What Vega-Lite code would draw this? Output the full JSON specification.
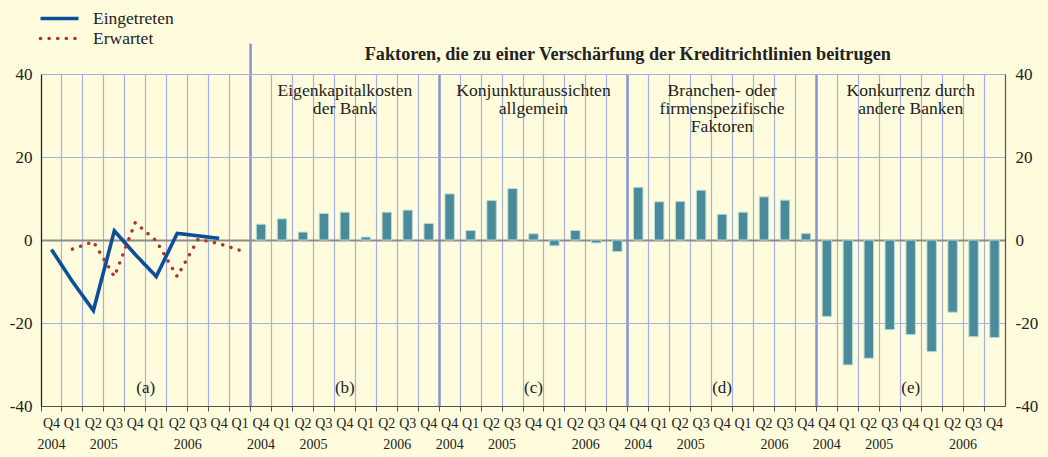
{
  "$schema": "https://vega.github.io/schema/vega-lite/v6.json",
  "width": 964,
  "height": 332,
  "autosize": {"type": "none"},
  "padding": {"left": 41, "top": 74, "right": 43, "bottom": 51},
  "background": "#fefcdc",
  "config": {
    "view": {"stroke": null},
    "font": "Liberation Serif",
    "text": {"font": "Liberation Serif", "color": "#222222"},
    "axis": {"labelFont": "Liberation Serif", "labelColor": "#222222", "title": null},
    "legend": {
      "orient": "none",
      "legendX": 7,
      "legendY": -67,
      "symbolType": "M-2,0H2",
      "symbolSize": 361,
      "symbolStrokeWidth": 3.6,
      "labelFont": "Liberation Serif",
      "labelFontSize": 17.5,
      "labelColor": "#222222",
      "labelOffset": 22,
      "rowPadding": 0
    }
  },
  "datasets": {
    "slots": [
      {"key": "10 Q4", "bar": 3.8}, {"key": "11 Q1", "bar": 5.1}, {"key": "12 Q2", "bar": 1.9},
      {"key": "13 Q3", "bar": 6.4}, {"key": "14 Q4", "bar": 6.7}, {"key": "15 Q1", "bar": 0.7},
      {"key": "16 Q2", "bar": 6.7}, {"key": "17 Q3", "bar": 7.2}, {"key": "18 Q4", "bar": 4.0},
      {"key": "19 Q4", "bar": 11.1}, {"key": "20 Q1", "bar": 2.3}, {"key": "21 Q2", "bar": 9.5},
      {"key": "22 Q3", "bar": 12.4}, {"key": "23 Q4", "bar": 1.5}, {"key": "24 Q1", "bar": -1.4},
      {"key": "25 Q2", "bar": 2.3}, {"key": "26 Q3", "bar": -0.7}, {"key": "27 Q4", "bar": -2.8},
      {"key": "28 Q4", "bar": 12.7}, {"key": "29 Q1", "bar": 9.2}, {"key": "30 Q2", "bar": 9.3},
      {"key": "31 Q3", "bar": 12.0}, {"key": "32 Q4", "bar": 6.2}, {"key": "33 Q1", "bar": 6.7},
      {"key": "34 Q2", "bar": 10.4}, {"key": "35 Q3", "bar": 9.6}, {"key": "36 Q4", "bar": 1.6},
      {"key": "37 Q4", "bar": -18.4}, {"key": "38 Q1", "bar": -30.1}, {"key": "39 Q2", "bar": -28.5},
      {"key": "40 Q3", "bar": -21.6}, {"key": "41 Q4", "bar": -22.8}, {"key": "42 Q1", "bar": -26.9},
      {"key": "43 Q2", "bar": -17.4}, {"key": "44 Q3", "bar": -23.3}, {"key": "45 Q4", "bar": -23.5}
    ],
    "lines": [
      {"key": "00 Q4", "series": "Eingetreten", "v": -2.3},
      {"key": "01 Q1", "series": "Eingetreten", "v": -10.0},
      {"key": "02 Q2", "series": "Eingetreten", "v": -17.0},
      {"key": "03 Q3", "series": "Eingetreten", "v": 2.2},
      {"key": "04 Q4", "series": "Eingetreten", "v": -3.5},
      {"key": "05 Q1", "series": "Eingetreten", "v": -8.8},
      {"key": "06 Q2", "series": "Eingetreten", "v": 1.6},
      {"key": "07 Q3", "series": "Eingetreten", "v": 1.0},
      {"key": "08 Q4", "series": "Eingetreten", "v": 0.4},
      {"key": "01 Q1", "series": "Erwartet", "v": -2.2},
      {"key": "02 Q2", "series": "Erwartet", "v": -0.4},
      {"key": "03 Q3", "series": "Erwartet", "v": -8.8},
      {"key": "04 Q4", "series": "Erwartet", "v": 4.2},
      {"key": "05 Q1", "series": "Erwartet", "v": -0.2},
      {"key": "06 Q2", "series": "Erwartet", "v": -8.8},
      {"key": "07 Q3", "series": "Erwartet", "v": 0.2},
      {"key": "08 Q4", "series": "Erwartet", "v": -0.9},
      {"key": "09 Q1", "series": "Erwartet", "v": -2.5}
    ],
    "ptitles": [
      {"key": "14 Q4", "lines": ["Eigenkapitalkosten", "der Bank"]},
      {"key": "23 Q4", "lines": ["Konjunkturaussichten", "allgemein"]},
      {"key": "32 Q4", "lines": ["Branchen- oder", "firmenspezifische", "Faktoren"]},
      {"key": "41 Q4", "lines": ["Konkurrenz durch", "andere Banken"]}
    ],
    "letters": [
      {"key": "14 Q4", "t": "(b)"}, {"key": "23 Q4", "t": "(c)"},
      {"key": "32 Q4", "t": "(d)"}, {"key": "41 Q4", "t": "(e)"}
    ],
    "yearStart": [
      {"key": "00 Q4", "t": "2004"}, {"key": "10 Q4", "t": "2004"}, {"key": "19 Q4", "t": "2004"},
      {"key": "28 Q4", "t": "2004"}, {"key": "37 Q4", "t": "2004"}
    ],
    "yearMid": [
      {"key": "03 Q3", "t": "2005"}, {"key": "07 Q3", "t": "2006"},
      {"key": "13 Q3", "t": "2005"}, {"key": "17 Q3", "t": "2006"},
      {"key": "22 Q3", "t": "2005"}, {"key": "26 Q3", "t": "2006"},
      {"key": "31 Q3", "t": "2005"}, {"key": "35 Q3", "t": "2006"},
      {"key": "40 Q3", "t": "2005"}, {"key": "44 Q3", "t": "2006"}
    ]
  },
  "layer": [
    {
      "data": {"name": "slots"},
      "mark": {"type": "bar", "width": {"band": 0.45}, "fill": "#4b8a99", "stroke": "#b5dbe2", "strokeWidth": 1},
      "encoding": {
        "x": {
          "field": "key", "type": "ordinal",
          "scale": {"paddingInner": 0, "paddingOuter": 0},
          "axis": {
            "orient": "bottom", "bandPosition": 0, "labels": false,
            "ticks": true, "tickSize": 5, "tickColor": "#555555",
            "domainColor": "#555555", "domainWidth": 1,
            "grid": true,
            "gridColor": {"condition": {"test": "indexof(['10 Q4','19 Q4','28 Q4','37 Q4'], datum.value) >= 0", "value": "#8594d2"}, "value": "#a3b0e0"},
            "gridWidth": {"condition": {"test": "indexof(['10 Q4','19 Q4','28 Q4','37 Q4'], datum.value) >= 0", "value": 2.5}, "value": 1.2}
          }
        },
        "y": {
          "field": "bar", "type": "quantitative",
          "scale": {"domain": [-40, 40], "nice": false},
          "axis": {
            "orient": "left", "values": [-40, -20, 0, 20, 40],
            "labelExpr": "toString(datum.value)",
            "grid": true,
            "gridColor": {"condition": {"test": "datum.value === 0", "value": "#8c8c8c"}, "value": "#a3b0e0"},
            "gridWidth": {"condition": {"test": "datum.value === 0", "value": 2}, "value": 1.2},
            "ticks": false, "domainColor": "#222222", "domainWidth": 1.2,
            "labelPadding": 9, "labelFontSize": 17
          }
        }
      }
    },
    {
      "data": {"name": "lines"},
      "transform": [{"filter": "datum.series === 'Eingetreten'"}],
      "mark": {"type": "line", "strokeWidth": 3.6, "strokeJoin": "miter", "strokeCap": "butt"},
      "encoding": {
        "x": {
          "field": "key", "type": "ordinal",
          "axis": {
            "orient": "bottom", "bandPosition": 0.5, "domain": false, "ticks": false, "tickSize": 0,
            "grid": false, "labelExpr": "substring(datum.value, 3)", "labelAngle": 0,
            "labelOverlap": false, "labelFontSize": 14, "labelPadding": 10
          }
        },
        "y": {
          "field": "v", "type": "quantitative",
          "scale": {"domain": [-40, 40], "nice": false},
          "axis": {
            "orient": "right", "values": [-40, -20, 0, 20, 40], "labelExpr": "toString(datum.value)",
            "grid": false, "ticks": false,
            "domainColor": "#555555", "domainWidth": 1.2, "labelPadding": 10, "labelFontSize": 17
          }
        },
        "color": {
          "field": "series", "type": "nominal",
          "scale": {"domain": ["Eingetreten", "Erwartet"], "range": ["#0b4f9c", "#b0342c"]},
          "legend": {"title": null, "encode": {"symbols": {"update": {"strokeCap": {"signal": "datum.value === 'Erwartet' ? 'round' : 'butt'"}}}}}
        },
        "strokeDash": {
          "field": "series", "type": "nominal",
          "scale": {"domain": ["Eingetreten", "Erwartet"], "range": [[1, 0], [0.1, 8.5]]},
          "legend": {"title": null, "encode": {"symbols": {"update": {"strokeCap": {"signal": "datum.value === 'Erwartet' ? 'round' : 'butt'"}}}}}
        }
      }
    },
    {
      "data": {"name": "lines"},
      "transform": [{"filter": "datum.series === 'Erwartet'"}],
      "mark": {"type": "line", "strokeWidth": 3.4, "strokeCap": "round"},
      "encoding": {
        "x": {"field": "key", "type": "ordinal", "axis": null},
        "y": {"field": "v", "type": "quantitative", "scale": {"domain": [-40, 40], "nice": false}, "axis": null},
        "color": {
          "field": "series", "type": "nominal",
          "scale": {"domain": ["Eingetreten", "Erwartet"], "range": ["#0b4f9c", "#b0342c"]},
          "legend": {"title": null, "encode": {"symbols": {"update": {"strokeCap": {"signal": "datum.value === 'Erwartet' ? 'round' : 'butt'"}}}}}
        },
        "strokeDash": {
          "field": "series", "type": "nominal",
          "scale": {"domain": ["Eingetreten", "Erwartet"], "range": [[1, 0], [0.1, 8.5]]},
          "legend": {"title": null, "encode": {"symbols": {"update": {"strokeCap": {"signal": "datum.value === 'Erwartet' ? 'round' : 'butt'"}}}}}
        }
      }
    },
    {
      "data": {"values": [{"key": "10 Q4"}]},
      "mark": {"type": "rule", "color": "#8594d2", "strokeWidth": 2.5, "clip": false},
      "encoding": {
        "x": {"field": "key", "type": "ordinal", "bandPosition": 0, "axis": null},
        "y": {"datum": 40, "type": "quantitative", "scale": {"domain": [-40, 40], "nice": false}, "axis": null},
        "y2": {"datum": 47.3}
      }
    },
    {
      "data": {"values": [{"key": "28 Q4", "t": "Faktoren, die zu einer Verschärfung der Kreditrichtlinien beitrugen"}]},
      "mark": {"type": "text", "fontSize": 18.2, "fontWeight": "bold", "baseline": "middle", "align": "center"},
      "encoding": {
        "x": {"field": "key", "type": "ordinal", "bandPosition": 0, "axis": null},
        "y": {"datum": 44.6, "type": "quantitative", "scale": {"domain": [-40, 40], "nice": false}, "axis": null},
        "text": {"field": "t"}
      }
    },
    {
      "data": {"name": "ptitles"},
      "mark": {"type": "text", "fontSize": 17.6, "baseline": "alphabetic", "align": "center", "lineHeight": 18},
      "encoding": {
        "x": {"field": "key", "type": "ordinal", "bandPosition": 0.5, "axis": null},
        "y": {"datum": 34.6, "type": "quantitative", "scale": {"domain": [-40, 40], "nice": false}, "axis": null},
        "text": {"field": "lines"}
      }
    },
    {
      "data": {"name": "letters"},
      "mark": {"type": "text", "fontSize": 17, "baseline": "middle", "align": "center"},
      "encoding": {
        "x": {"field": "key", "type": "ordinal", "bandPosition": 0.5, "axis": null},
        "y": {"datum": -35.7, "type": "quantitative", "scale": {"domain": [-40, 40], "nice": false}, "axis": null},
        "text": {"field": "t"}
      }
    },
    {
      "data": {"values": [{"key": "05 Q1", "t": "(a)"}]},
      "mark": {"type": "text", "fontSize": 17, "baseline": "middle", "align": "center"},
      "encoding": {
        "x": {"field": "key", "type": "ordinal", "bandPosition": 0, "axis": null},
        "y": {"datum": -35.7, "type": "quantitative", "scale": {"domain": [-40, 40], "nice": false}, "axis": null},
        "text": {"field": "t"}
      }
    },
    {
      "data": {"name": "yearStart"},
      "mark": {"type": "text", "fontSize": 14, "baseline": "middle", "align": "center"},
      "encoding": {
        "x": {"field": "key", "type": "ordinal", "bandPosition": 0.5, "axis": null},
        "y": {"datum": -49.4, "type": "quantitative", "scale": {"domain": [-40, 40], "nice": false}, "axis": null},
        "text": {"field": "t"}
      }
    },
    {
      "data": {"name": "yearMid"},
      "mark": {"type": "text", "fontSize": 14, "baseline": "middle", "align": "center"},
      "encoding": {
        "x": {"field": "key", "type": "ordinal", "bandPosition": 0, "axis": null},
        "y": {"datum": -49.4, "type": "quantitative", "scale": {"domain": [-40, 40], "nice": false}, "axis": null},
        "text": {"field": "t"}
      }
    }
  ],
  "resolve": {"axis": {"x": "independent", "y": "independent"}}
}
